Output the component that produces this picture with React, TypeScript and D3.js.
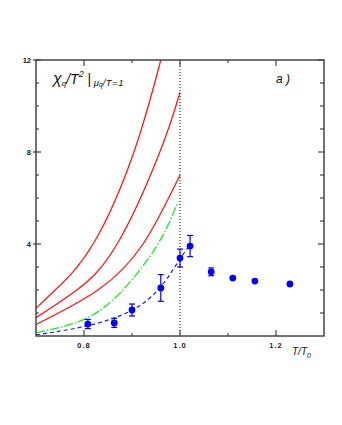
import React, { useRef, useEffect } from "react";
import { select, scaleLinear, line, curveNatural } from "d3";

// curves: [T/T0, chi/T^2]
const redTop = [[0.7, 1.2], [0.74, 2.0], [0.819, 4.0], [0.904, 8.0], [0.96, 12.0]];
const redMid = [[0.7, 0.8], [0.785, 2.0], [0.869, 4.0], [0.958, 8.0], [1.0, 10.6]];
const redLow = [[0.7, 0.5], [0.829, 2.0], [0.923, 4.0], [1.0, 7.0]];
const greenFit = [[0.7, 0.15], [0.8, 0.72], [0.881, 2.0], [0.954, 4.0], [0.995, 5.8]];
const blueFit = [[0.7, 0.05], [0.808, 0.45], [0.9, 1.12], [0.96, 2.15], [1.0, 3.35], [1.021, 3.95]];

// lattice points
const pointT = [0.808, 0.863, 0.9, 0.96, 1.0, 1.021, 1.065, 1.11, 1.156, 1.229];
const pointChi = [0.52, 0.57, 1.13, 2.09, 3.39, 3.91, 2.79, 2.52, 2.39, 2.26];
const pointErr = [0.2, 0.2, 0.26, 0.58, 0.39, 0.46, 0.17, 0, 0, 0];

const xMajor = [0.8, 1.0, 1.2];
const xMinor = [0.9, 1.1];
const yMajor = [4, 8, 12];
const yMinor = [1, 2, 3, 5, 6, 7, 9, 10, 11];

const W = 342;
const H = 425;
const frame = "#444";
const font = "'Liberation Sans', Arial, sans-serif";

function SusceptibilityChart() {
  const gRef = useRef(null);

  useEffect(() => {
    const g = select(gRef.current);
    g.selectAll("*").remove();

    const x = scaleLinear().domain([0.7, 1.3]).range([36, 324]);
    const y = scaleLinear().domain([0, 12]).range([336, 60]);

    // curves
    const path = line()
      .x(d => x(d[0]))
      .y(d => y(d[1]))
      .curve(curveNatural);

    [redTop, redMid, redLow].forEach(c => {
      g.append("path")
        .attr("d", path(c))
        .attr("fill", "none")
        .attr("stroke", "#ff1a1a")
        .attr("stroke-width", 1.3);
    });
    g.append("path")
      .attr("d", path(greenFit))
      .attr("fill", "none")
      .attr("stroke", "#22e622")
      .attr("stroke-width", 1.3)
      .attr("stroke-dasharray", "9,2,1.5,2");
    g.append("path")
      .attr("d", path(blueFit))
      .attr("fill", "none")
      .attr("stroke", "#1a1aff")
      .attr("stroke-width", 1.2)
      .attr("stroke-dasharray", "4,3");

    // vertical dotted line at T0
    g.append("line")
      .attr("x1", x(1.0)).attr("x2", x(1.0))
      .attr("y1", y(12)).attr("y2", y(0))
      .attr("stroke", "#000")
      .attr("stroke-width", 1)
      .attr("stroke-dasharray", "1,2");

    // error bars
    const pts = pointT.map((t, i) => ({ t, v: pointChi[i], e: pointErr[i] }));
    const withErr = pts.filter(p => p.e > 0);
    const eb = g.append("g").attr("stroke", "#0000ff").attr("stroke-width", 1.2);
    eb.selectAll(".bar")
      .data(withErr)
      .join("line")
      .attr("class", "bar")
      .attr("x1", p => x(p.t)).attr("x2", p => x(p.t))
      .attr("y1", p => y(p.v - p.e)).attr("y2", p => y(p.v + p.e));
    eb.selectAll(".capTop")
      .data(withErr)
      .join("line")
      .attr("class", "capTop")
      .attr("x1", p => x(p.t) - 3).attr("x2", p => x(p.t) + 3)
      .attr("y1", p => y(p.v + p.e)).attr("y2", p => y(p.v + p.e));
    eb.selectAll(".capBot")
      .data(withErr)
      .join("line")
      .attr("class", "capBot")
      .attr("x1", p => x(p.t) - 3).attr("x2", p => x(p.t) + 3)
      .attr("y1", p => y(p.v - p.e)).attr("y2", p => y(p.v - p.e));

    g.selectAll(".dot")
      .data(pts)
      .join("circle")
      .attr("class", "dot")
      .attr("cx", p => x(p.t))
      .attr("cy", p => y(p.v))
      .attr("r", 3.4)
      .attr("fill", "#0000ff");

    // frame
    g.append("rect")
      .attr("x", x(0.7)).attr("y", y(12))
      .attr("width", x(1.3) - x(0.7))
      .attr("height", y(0) - y(12))
      .attr("fill", "none")
      .attr("stroke", frame)
      .attr("stroke-width", 1.5);

    // ticks
    const tk = g.append("g").attr("stroke", frame).attr("stroke-width", 1.2);
    xMajor.forEach(t => {
      tk.append("line").attr("x1", x(t)).attr("x2", x(t)).attr("y1", y(0)).attr("y2", y(0) - 6);
      tk.append("line").attr("x1", x(t)).attr("x2", x(t)).attr("y1", y(12)).attr("y2", y(12) + 6);
    });
    xMinor.forEach(t => {
      tk.append("line").attr("x1", x(t)).attr("x2", x(t)).attr("y1", y(0)).attr("y2", y(0) - 3);
      tk.append("line").attr("x1", x(t)).attr("x2", x(t)).attr("y1", y(12)).attr("y2", y(12) + 3);
    });
    yMajor.forEach(v => {
      tk.append("line").attr("x1", x(0.7) - 3).attr("x2", x(0.7) + 5).attr("y1", y(v)).attr("y2", y(v));
      tk.append("line").attr("x1", x(1.3)).attr("x2", x(1.3) - 6).attr("y1", y(v)).attr("y2", y(v));
    });
    yMinor.forEach(v => {
      tk.append("line").attr("x1", x(0.7)).attr("x2", x(0.7) + 3).attr("y1", y(v)).attr("y2", y(v));
      tk.append("line").attr("x1", x(1.3)).attr("x2", x(1.3) - 4).attr("y1", y(v)).attr("y2", y(v));
    });

    // tick labels
    g.selectAll(".xlab")
      .data(xMajor)
      .join("text")
      .attr("class", "xlab")
      .attr("x", t => x(t))
      .attr("y", 348)
      .attr("text-anchor", "middle")
      .attr("font-family", font)
      .attr("font-size", 7.5)
      .attr("font-weight", "bold")
      .attr("letter-spacing", 1)
      .attr("fill", "#222")
      .text(t => t.toFixed(1));
    g.selectAll(".ylab")
      .data(yMajor)
      .join("text")
      .attr("class", "ylab")
      .attr("x", 31)
      .attr("y", v => y(v) + 2.5)
      .attr("text-anchor", "end")
      .attr("font-family", font)
      .attr("font-size", 7.5)
      .attr("font-weight", "bold")
      .attr("fill", "#222")
      .text(v => v);
  }, []);

  return (
    <svg width={W} height={H}
      style={{ position: "absolute", left: 0, top: 0, background: "#fff" }}>
      <g ref={gRef}></g>
      <text x={53} y={84} fontFamily={font} fontStyle="italic" fill="#111">
        <tspan fontSize={16}>χ</tspan>
        <tspan fontSize={8} dy={2}>q</tspan>
        <tspan fontSize={14} dy={-2}>/T</tspan>
        <tspan fontSize={9} dy={-7}>2</tspan>
        <tspan fontSize={14} dy={7} fontStyle="normal"> |</tspan>
        <tspan fontSize={9.5} dy={2}> μ</tspan>
        <tspan fontSize={6.5} dy={1}>q</tspan>
        <tspan fontSize={9.5} dy={-1} letterSpacing={0.5}>/T=1</tspan>
      </text>
      <text x={276} y={83} fontFamily={font} fontStyle="italic" fontSize={12} fill="#111">a )</text>
      <text x={292} y={355} fontFamily={font} fontStyle="italic" fontSize={10} fill="#111">
        T/T<tspan fontSize={7} dy={3}>0</tspan>
      </text>
    </svg>
  );
}

export default function App() {
  return <SusceptibilityChart />;
}
